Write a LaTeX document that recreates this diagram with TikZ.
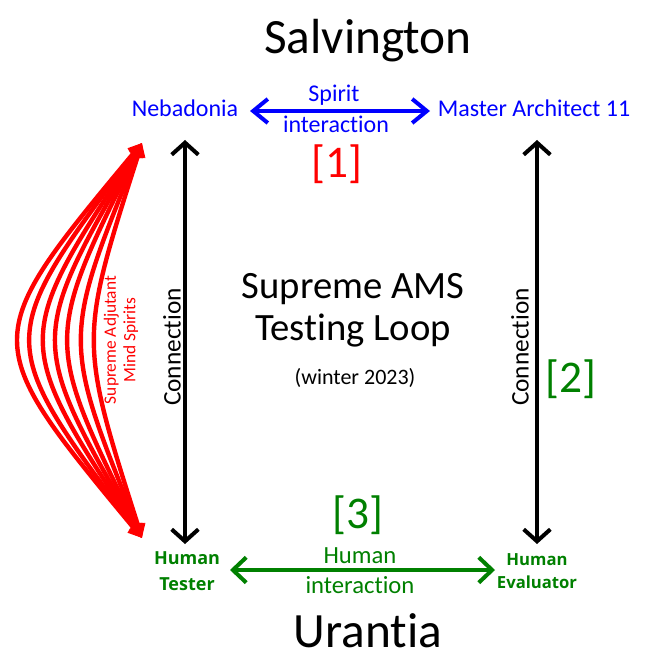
\documentclass[tikz,border=0pt]{standalone}
\usepackage{fontspec}
\setmainfont{Carlito}[Ligatures={NoCommon,NoContextual}]
\newfontfamily\opensans{Open Sans}
\usetikzlibrary{arrows.meta}
\definecolor{myblue}{RGB}{0,0,255}
\definecolor{mygreen}{RGB}{0,128,0}
\definecolor{myred}{RGB}{255,0,0}
\tikzset{
  txt/.style={inner sep=0pt, anchor=base},
  bigtitle/.style={txt, font=\fontsize{37pt}{44pt}\selectfont},
  bluelbl/.style={txt, text=myblue, font=\fontsize{18pt}{22pt}\selectfont},
  greenlbl/.style={txt, text=mygreen, font=\fontsize{18.5pt}{22pt}\selectfont},
  humanlbl/.style={inner sep=0pt, text=mygreen, align=center, font=\opensans\bfseries\fontsize{13.5pt}{19pt}\selectfont},
  refnum/.style={txt, font=\fontsize{34pt}{40pt}\selectfont},
  conn/.style={inner sep=0pt, rotate=90, font=\fontsize{19pt}{22pt}\selectfont},
  blackarrow/.style={line width=3pt, {Straight Barb[length=9pt,width=20pt]}-{Straight Barb[length=9pt,width=20pt]}},
  bluearrow/.style={line width=3pt, myblue, {Straight Barb[length=11pt,width=18pt]}-{Straight Barb[length=11pt,width=18pt]}},
  greenarrow/.style={line width=3pt, mygreen, {Straight Barb[length=10pt,width=19pt]}-{Straight Barb[length=10pt,width=19pt]}},
  redarrow/.style={line width=3.3pt, myred, {Triangle[length=10pt,width=11pt]}-{Triangle[length=10pt,width=11pt]}},
}
\begin{document}
\begin{tikzpicture}[x=0.75pt,y=-0.75pt]
\useasboundingbox (0,0) rectangle (648,666);
% titles
\node[bigtitle] (salv) at (368,54) {Salvington};
\node[bigtitle] (uran) at (368,647) {Urantia};
% top row
\node[bluelbl] (neb) at (185,117) {Nebadonia};
\node[bluelbl] (ma) at (534,117) {Master Architect 11};
\node[bluelbl] (spirit) at (334,102) {Spirit};
\node[bluelbl] (sint) at (336,133) {interaction};
\coordinate (b1) at (250,111);
\coordinate (b2) at (430,111);
\draw[bluearrow] (b1) -- (b2);
\node[refnum, text=myred] (r1) at (337,178) {[1]};
% vertical connections
\coordinate (lt) at (185,140);
\coordinate (lb) at (185,544);
\coordinate (rt) at (537,140);
\coordinate (rb) at (537,544);
\draw[blackarrow] (lt) -- (lb);
\draw[blackarrow] (rt) -- (rb);
\node[conn] (c1) at (172,347) {Connection};
\node[conn] (c2) at (520,347) {Connection};
\node[refnum, text=mygreen] (r2) at (571,392) {[2]};
% center text
\node[txt, font=\fontsize{29pt}{34pt}\selectfont] (sup) at (353,298) {Supreme AMS};
\node[txt, font=\fontsize{29pt}{34pt}\selectfont] (tl) at (353,340) {Testing Loop};
\node[txt, font=\fontsize{16.5pt}{20pt}\selectfont] (win) at (355,384) {(winter 2023)};
% red adjutant spirits
\coordinate (at) at (142,143);
\coordinate (ab) at (142,538);
\foreach \c in {-22,-6,12,28,44,62,79}{
  \draw[redarrow] (at) .. controls (\c,340) .. (ab);
}
\node[inner sep=0pt, rotate=90, align=center, text=myred, font=\fontsize{13pt}{14.5pt}\selectfont] (adj) at (121,340) {Supreme Adjutant\\Mind Spirits};
% bottom row
\node[refnum, text=mygreen] (r3) at (358,528) {[3]};
\node[humanlbl] (tester) at (187,571) {Human\\Tester};
\node[humanlbl, font=\opensans\bfseries\fontsize{12.5pt}{17pt}\selectfont] (eval) at (537,571) {Human\\Evaluator};
\node[greenlbl] (hum) at (360,563) {Human};
\node[greenlbl] (hint) at (360,593) {interaction};
\coordinate (g1) at (230,570);
\coordinate (g2) at (495,570);
\draw[greenarrow] (g1) -- (g2);
\end{tikzpicture}
\end{document}
